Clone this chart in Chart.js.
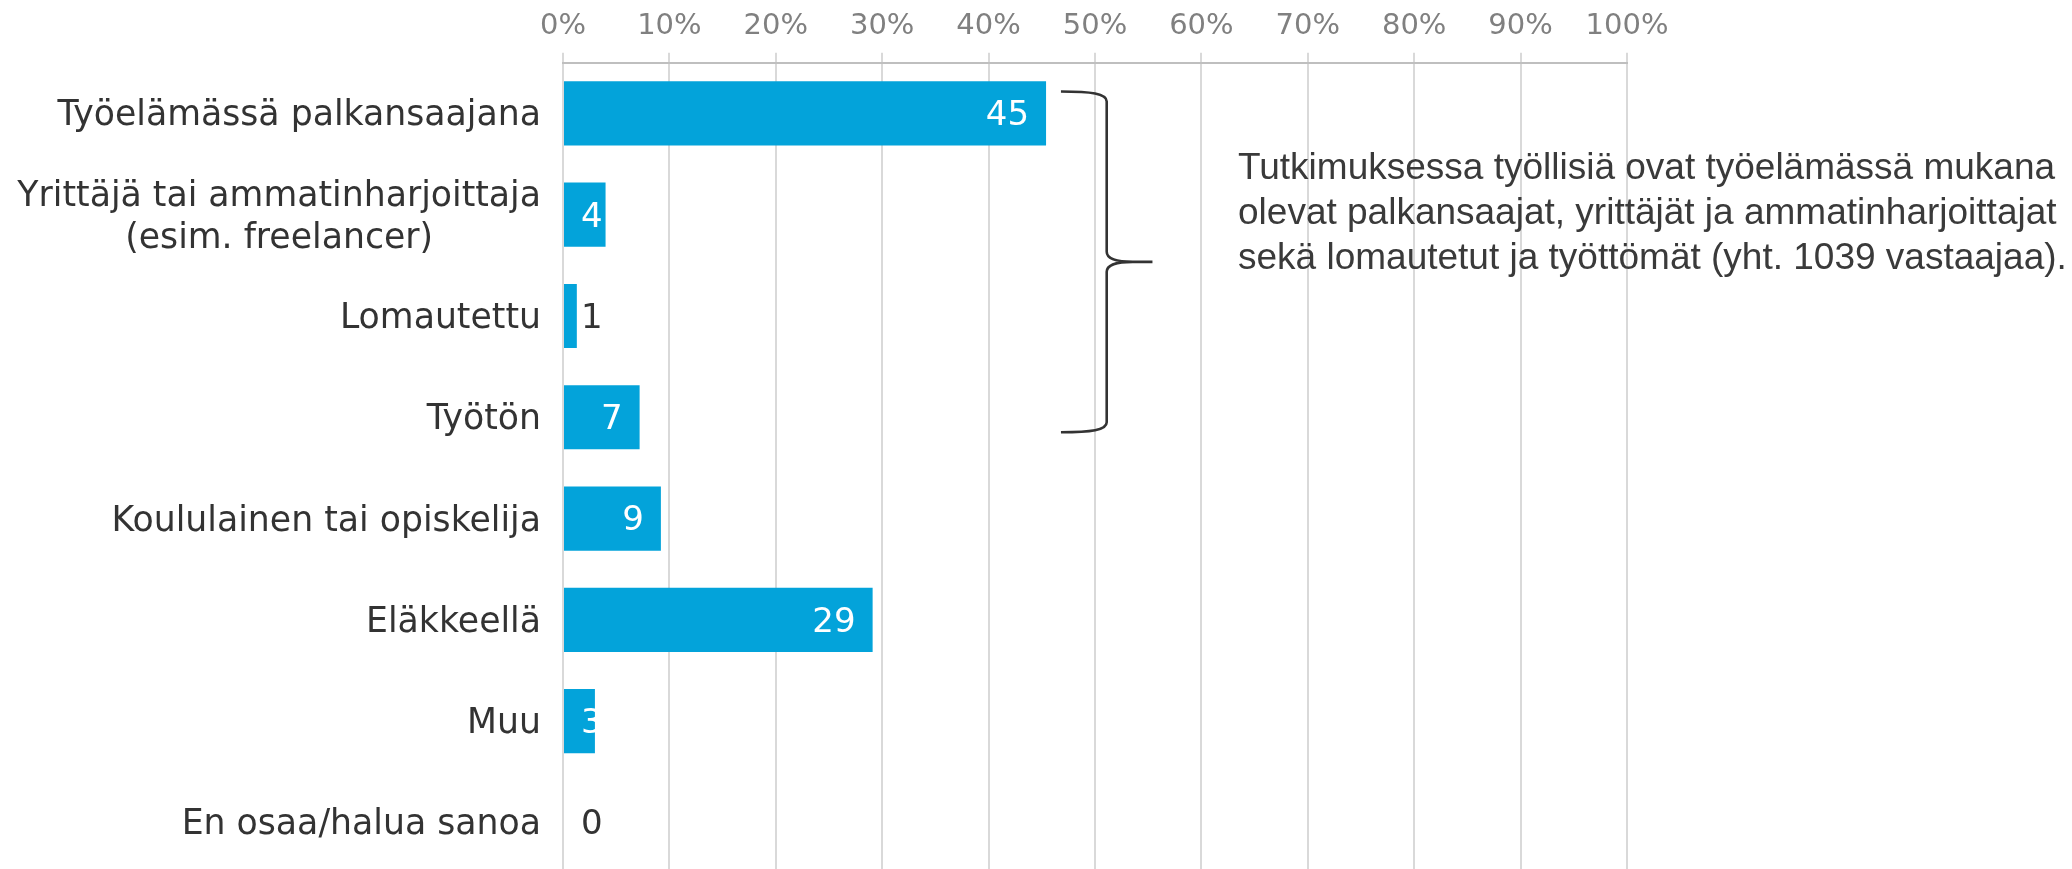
<!DOCTYPE html>
<html lang="fi">
<head>
<meta charset="utf-8">
<title>Vastaajien työmarkkina-asema</title>
<script src="https://cdn.jsdelivr.net/npm/chart.js@4/dist/chart.umd.min.js"></script>
<style>
    html, body { margin: 0; padding: 0; background: #fff; overflow: hidden; }
    #wrap { width: 2072px; height: 869px; overflow: hidden; }
    #inner { position: relative; width: 2072px; height: 873px; }
</style>
</head>
<body>
<div id="wrap"><div id="inner"><canvas id="graph-status"></canvas></div></div>
<script>
/* global Chart */
const categories = [
    ["Työelämässä palkansaajana"],
    ["Yrittäjä tai ammatinharjoittaja", "(esim. freelancer)"],
    ["Lomautettu"],
    ["Työtön"],
    ["Koululainen tai opiskelija"],
    ["Eläkkeellä"],
    ["Muu"],
    ["En osaa/halua sanoa"]
];
// bar lengths (%) as measured, the labels show them rounded
const shares = [45.4, 4.0, 1.3, 7.2, 9.2, 29.1, 3.0, 0];
const axisMax = 100;
const axisStep = 10;
const noteLines = [
    "Tutkimuksessa työllisiä ovat työelämässä mukana",
    "olevat palkansaajat, yrittäjät ja ammatinharjoittajat",
    "sekä lomautetut ja työttömät (yht. 1039 vastaajaa)."
];
const employedGroup = [0, 3]; // first and last row covered by the brace

const TEXT_DARK = "#333333";
const BAR_BLUE = "#03A3DA";

// category names drawn by hand so the two-line one stays centred
const categoryLabels = {
    id: "categoryLabels",
    afterDraw(chart) {
        const ctx = chart.ctx;
        const yScale = chart.scales.y;
        const right = chart.chartArea.left - 22;
        ctx.save();
        ctx.font = "34.7px 'DejaVu Sans'";
        ctx.fillStyle = TEXT_DARK;
        ctx.textAlign = "center";
        ctx.textBaseline = "middle";
        categories.forEach((lines, i) => {
            const w = Math.max(...lines.map(l => ctx.measureText(l).width));
            const cx = right - w / 2;
            const cy = yScale.getPixelForValue(i) + 3;
            lines.forEach((line, k) => {
                ctx.fillText(line, cx, cy + (k - (lines.length - 1) / 2) * 42);
            });
        });
        ctx.restore();
    }
};

// value at the inside end of each bar (pushed right of the axis when the bar is short)
const valueLabels = {
    id: "valueLabels",
    afterDatasetsDraw(chart) {
        const ctx = chart.ctx;
        const meta = chart.getDatasetMeta(0);
        ctx.save();
        ctx.font = "34px 'DejaVu Sans'";
        ctx.textAlign = "left";
        ctx.textBaseline = "middle";
        meta.data.forEach((bar, i) => {
            const txt = String(Math.round(shares[i]));
            const w = ctx.measureText(txt).width;
            const x = Math.max(bar.x - 17 - w, bar.base + 17);
            ctx.fillStyle = (bar.x - bar.base) > w ? "#ffffff" : TEXT_DARK;
            ctx.fillText(txt, x, bar.y + 3);
        });
        ctx.restore();
    }
};

// curly brace + explanation on the right
const employedNote = {
    id: "employedNote",
    afterDraw(chart) {
        const ctx = chart.ctx;
        const xs = chart.scales.x;
        const ys = chart.scales.y;
        const top = ys.getPixelForValue(employedGroup[0]) - 22;
        const bottom = ys.getPixelForValue(employedGroup[1]) + 15;
        const mid = (top + bottom) / 2;
        const x0 = xs.getPixelForValue(46.8);
        const x1 = xs.getPixelForValue(51.1);
        const x2 = xs.getPixelForValue(55.4);
        const r = 10;

        ctx.save();
        ctx.strokeStyle = "#333333";
        ctx.lineWidth = 2.6;
        ctx.beginPath();
        ctx.moveTo(x0, top);
        ctx.bezierCurveTo(x0 + 30, top, x1, top + 2, x1, top + r);
        ctx.lineTo(x1, mid - r);
        ctx.quadraticCurveTo(x1, mid, x1 + 26, mid);
        ctx.lineTo(x2, mid);
        ctx.moveTo(x1 + 26, mid);
        ctx.quadraticCurveTo(x1, mid, x1, mid + r);
        ctx.lineTo(x1, bottom - r);
        ctx.bezierCurveTo(x1, bottom - 2, x0 + 30, bottom, x0, bottom);
        ctx.stroke();

        ctx.font = "37px 'Liberation Sans'";
        ctx.fillStyle = "#3a3a3a";
        ctx.textAlign = "left";
        ctx.textBaseline = "middle";
        const lineY = ys.getPixelForValue(1) - 1;
        noteLines.forEach((line, k) => {
            ctx.fillText(line, 1238, lineY + (k - 1) * 45);
        });
        ctx.restore();
    }
};

new Chart(document.getElementById("graph-status"), {
    type: "bar",
    data: {
        labels: categories,
        datasets: [{
            data: shares,
            // the empty row gets a thin white bar that hides the axis line, as in the original
            backgroundColor: shares.map(v => v === 0 ? "#ffffff" : BAR_BLUE),
            minBarLength: 3,
            barPercentage: 0.634,
            categoryPercentage: 1
        }]
    },
    options: {
        indexAxis: "y",
        responsive: true,
        maintainAspectRatio: false,
        animation: false,
        layout: { padding: { left: 563, right: 445, top: 0, bottom: 0 } },
        plugins: {
            legend: { display: false },
            tooltip: { enabled: false }
        },
        scales: {
            x: {
                position: "top",
                min: 0,
                max: axisMax,
                ticks: {
                    stepSize: axisStep,
                    callback: v => v + "%",
                    color: "#808080",
                    font: { family: "DejaVu Sans", size: 29 },
                    padding: 9,
                    maxRotation: 0
                },
                grid: { color: "#d9d9d9", lineWidth: 2, tickLength: 10 },
                border: { color: "#bfbfbf", width: 2 }
            },
            y: { display: false }
        }
    },
    plugins: [categoryLabels, valueLabels, employedNote]
});
</script>
</body>
</html>
